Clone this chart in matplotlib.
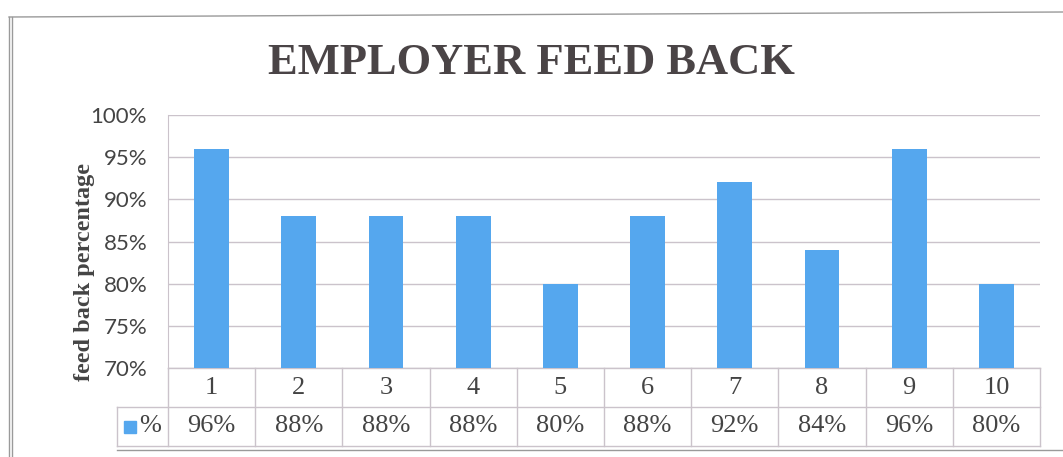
"""
Employer feed back bar chart with Excel-style data table
"""
import matplotlib.pyplot as plt
import matplotlib.ticker as mtick
from matplotlib.lines import Line2D
from matplotlib.patches import Rectangle

categories = ['1', '2', '3', '4', '5', '6', '7', '8', '9', '10']
values     = [96, 88, 88, 88, 80, 88, 92, 84, 96, 80]
row_label  = '%'
title      = 'EMPLOYER FEED BACK'
ylabel     = 'feed back percentage'

bar_color  = '#55a7ee'
grid_color = '#cbc3cb'
text_color = '#444444'

W, H = 1063, 457
fig = plt.figure(figsize=(W / 100, H / 100), dpi=100)

# plot area in pixels: left 168, right 1040, top 115, bottom 368
left, right, top, bottom = 168, 1040, 115, 368
ax = fig.add_axes([left / W, 1 - bottom / H, (right - left) / W, (bottom - top) / H])

x = list(range(len(categories)))
ax.bar(x, values, width=0.4, color=bar_color, zorder=3)
ax.set_xlim(-0.5, len(categories) - 0.5)
ax.set_ylim(70, 100)
ax.set_yticks(range(70, 101, 5))
ax.yaxis.set_major_formatter(mtick.FuncFormatter(lambda v, p: '{:d}%'.format(int(v))))
ax.tick_params(axis='y', length=0, pad=15, labelsize=16, labelcolor=text_color)
for lbl in ax.get_yticklabels():
    lbl.set_fontfamily('Lato')
ax.set_xticks([])
ax.grid(axis='y', color=grid_color, linewidth=1.0, zorder=0)
for side in ['top', 'right', 'bottom']:
    ax.spines[side].set_visible(False)
ax.spines['left'].set_color(grid_color)

ax.set_ylabel(ylabel, fontfamily='Liberation Serif', fontweight='bold',
              fontsize=17.5, color=text_color)
ax.yaxis.set_label_coords((95 - left) / (right - left), (bottom - 272) / (bottom - top))

# data table below the plot area
col_px = (right - left) / len(categories)
row_h = 39 / (bottom - top)  # in axes units
tr = ax.get_xaxis_transform()
legend_left = -0.5 - 51 / col_px
x_end = len(categories) - 0.5
lines = []
# horizontal lines
lines.append(([-0.5, x_end], [0, 0]))
lines.append(([legend_left, x_end], [-row_h, -row_h]))
lines.append(([legend_left, x_end], [-2 * row_h, -2 * row_h]))
# vertical lines
for i in range(len(categories) + 1):
    lines.append(([i - 0.5, i - 0.5], [0, -2 * row_h]))
lines.append(([legend_left, legend_left], [-row_h, -2 * row_h]))
for xs, ys in lines:
    ax.add_line(Line2D(xs, ys, transform=tr, color=grid_color, linewidth=1.0, clip_on=False))

for i, (c, v) in enumerate(zip(categories, values)):
    ax.text(i, -row_h / 2, c, transform=tr, ha='center', va='center',
            fontfamily='Liberation Serif', fontsize=19, color=text_color)
    ax.text(i, -1.5 * row_h, '{}%'.format(v), transform=tr, ha='center', va='center',
            fontfamily='Liberation Serif', fontsize=19, color=text_color)

# legend key in the row-label cell
key_w = 12 / col_px
ax.add_patch(Rectangle((legend_left + 7 / col_px, -1.5 * row_h - 6 / (bottom - top)), key_w,
                       12 / (bottom - top), transform=tr, color=bar_color, clip_on=False))
ax.text(legend_left + 22 / col_px, -1.5 * row_h, row_label, transform=tr, ha='left', va='center',
        fontfamily='Liberation Serif', fontsize=19, color=text_color)

fig.text(0.5, 1 - 63 / H, title, ha='center', va='center', fontfamily='Liberation Serif',
         fontweight='bold', fontsize=32, color='#4a4446')

# outer chart frame
frame = [((9, 9), (17, 457)), ((12, 12), (17, 457)), ((9, 1063), (17, 12)), ((117, 1063), (450, 450))]
for xs, ys in frame:
    fig.add_artist(Line2D([v / W for v in xs], [1 - v / H for v in ys], color='#9a9a9a', linewidth=1.0))

fig.savefig('out.png', dpi=100)
